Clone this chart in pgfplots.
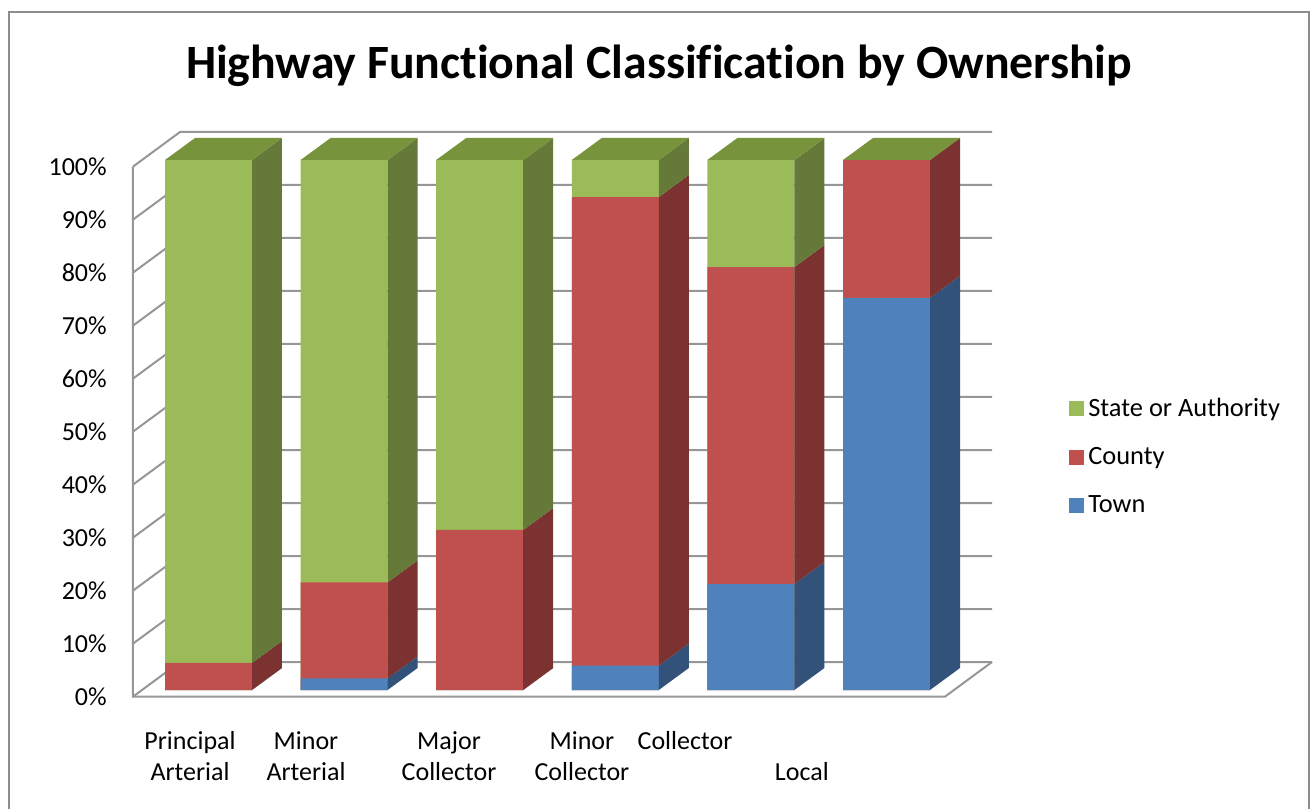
\documentclass[border=0pt]{standalone}
\usepackage{fontspec}
\setmainfont{Carlito}
\usepackage{pgfplots}
\usepackage{pgfplotstable}
\pgfplotsset{compat=1.18}
\definecolor{gfront}{HTML}{9BBB59}
\definecolor{gside}{HTML}{657A39}
\definecolor{gtop}{HTML}{77933C}
\definecolor{rfront}{HTML}{C0504D}
\definecolor{rside}{HTML}{7B3230}
\definecolor{bfront}{HTML}{4F81BD}
\definecolor{bside}{HTML}{33527A}
\definecolor{gridc}{RGB}{150,150,150}
\definecolor{framec}{RGB}{140,140,140}

\pgfplotstableread{
idx town county state
0 0    5.1  94.9
1 2.2  18.1 79.7
2 0    30.2 69.8
3 4.6  88.4 7.0
4 20.0 59.8 20.2
5 74.0 26.0 0
}\datatable

\def\hw{0.3208}
\def\dx{0.2212}
\def\dy{4.151}

\begin{document}
\begin{tikzpicture}
\path[use as bounding box] (0pt,0pt) rectangle (655.5pt,404.5pt);
\draw[framec, line width=1pt] (4.25pt,0pt) -- (4.25pt,398.5pt) -- (654.5pt,398.5pt) -- (654.5pt,0pt);
\node[font=\bfseries\fontsize{23.9}{28}\selectfont\addfontfeature{Ligatures=NoCommon}, anchor=base] at (329.5pt,365pt) {Highway Functional Classification by Ownership};
\begin{axis}[
  at={(63.57pt,59.5pt)}, anchor=south west,
  scale only axis, width=420.36pt, height=265pt,
  xmin=-0.6, xmax=5.6, ymin=0, ymax=100,
  clip=false,
  axis line style={draw=none},
  major tick length=0pt,
  ytick={0,10,...,100},
  yticklabels={0\%,10\%,20\%,30\%,40\%,50\%,60\%,70\%,80\%,90\%,100\%},
  yticklabel style={font=\fontsize{13}{15.6}\selectfont, anchor=east, inner sep=0pt, xshift=-10pt, yshift=-3.5pt},
  xtick={-0.136,0.719,1.774,2.754,3.514,4.376},
  xticklabels={{\strut Principal\\Arterial},{\strut Minor\\Arterial},{\strut Major\\Collector},{\strut Minor\\Collector},{\strut Collector\\\strut},{\strut\\Local}},
  xticklabel style={font=\fontsize{13}{15.6}\selectfont, align=center, anchor=north, inner sep=0pt, yshift=-18.5pt},
  legend style={at={(1.1131,0.4396)}, anchor=west, draw=none, fill=none,
     font=\fontsize{13.2}{15.8}\selectfont, row sep=10pt},
  legend cell align=left,
  legend image code/.code={\draw[#1,draw=none,/tikz/.cd] (0pt,-3.75pt) rectangle (7.5pt,3.75pt);},
]
% walls and gridlines
\pgfplotsinvokeforeach{0,10,...,100}{
  \draw[gridc, line width=1pt] (axis cs:-0.5568,{#1-1.25}) -- (axis cs:-0.2102,{#1+5.283}) -- (axis cs:5.778,{#1+5.283});
}
\draw[gridc, line width=1pt] (axis cs:-0.5568,98.75) -- (axis cs:-0.5568,-1.25) -- (axis cs:5.4314,-1.25) -- (axis cs:5.778,5.283);

% front faces
\addplot[ybar, bar width=43.5pt, bar shift=0pt, fill=gfront, draw=none, mark=none]
  table[x=idx, y expr=\thisrow{town}+\thisrow{county}+\thisrow{state}] {\datatable};
\addlegendentry{State or Authority}
\addplot[ybar, bar width=43.5pt, bar shift=0pt, fill=rfront, draw=none, mark=none]
  table[x=idx, y expr=\thisrow{town}+\thisrow{county}] {\datatable};
\addlegendentry{County}
\addplot[ybar, bar width=43.5pt, bar shift=0pt, fill=bfront, draw=none, mark=none]
  table[x=idx, y=town] {\datatable};
\addlegendentry{Town}

% side and top faces
\pgfplotsforeachungrouped \k in {0,...,5}{
  \pgfplotstablegetelem{\k}{town}\of\datatable \let\vt\pgfplotsretval
  \pgfplotstablegetelem{\k}{county}\of\datatable \let\vc\pgfplotsretval
  \pgfplotstablegetelem{\k}{state}\of\datatable \let\vs\pgfplotsretval
  \pgfmathsetmacro\xl{\k-\hw}
  \pgfmathsetmacro\xr{\k+\hw}
  \pgfmathsetmacro\xlb{\k-\hw+\dx}
  \pgfmathsetmacro\xrb{\k+\hw+\dx}
  \pgfmathsetmacro\ya{\vt}
  \pgfmathsetmacro\yb{\vt+\vc}
  \pgfmathsetmacro\yc{\vt+\vc+\vs}
  \pgfmathsetmacro\yad{\ya+\dy}
  \pgfmathsetmacro\ybd{\yb+\dy}
  \pgfmathsetmacro\ycd{\yc+\dy}
  \edef\temp{%
    \noexpand\addplot[fill=bside, draw=none, mark=none, forget plot] coordinates {(\xr,0) (\xrb,\dy) (\xrb,\yad) (\xr,\ya)};
    \noexpand\addplot[fill=rside, draw=none, mark=none, forget plot] coordinates {(\xr,\ya) (\xrb,\yad) (\xrb,\ybd) (\xr,\yb)};
    \noexpand\addplot[fill=gside, draw=none, mark=none, forget plot] coordinates {(\xr,\yb) (\xrb,\ybd) (\xrb,\ycd) (\xr,\yc)};
    \noexpand\addplot[fill=gtop, draw=none, mark=none, forget plot] coordinates {(\xl,\yc) (\xr,\yc) (\xrb,\ycd) (\xlb,\ycd)};
  }%
  \temp
}
\end{axis}
\end{tikzpicture}
\end{document}
